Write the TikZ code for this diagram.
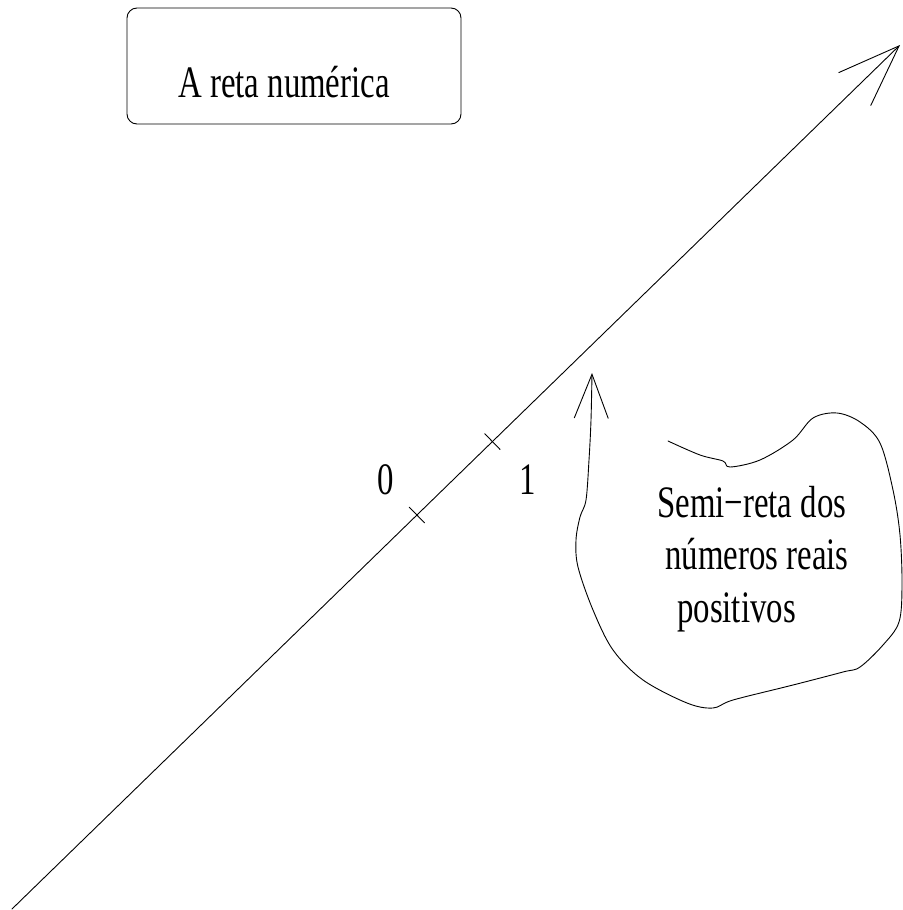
\documentclass[tikz,border=0pt]{standalone}
\usepackage{fontspec}
\setmainfont[FakeStretch=0.73]{Liberation Serif}
\usetikzlibrary{arrows.meta, calc}

\begin{document}
\begin{tikzpicture}[
        x=1pt, y=-1pt,
        font=\fontsize{45}{52}\selectfont,
        every node/.style={inner sep=0pt},
        thinline/.style={line width=0.9pt, line cap=round, line join=round},
        titlebox/.style={draw, thinline, rounded corners=10pt, minimum width=334pt, minimum height=116pt},
        axis/.style={thinline, -{Straight Barb[length=62pt, width=46pt]}},
        callout/.style={thinline, -{Straight Barb[length=44pt, width=34pt]}},
        tickmark/.style={thinline},
        lbl/.style={anchor=base west}
    ]
    \useasboundingbox (0,0) rectangle (902,910);

    % title
    \node (title) [titlebox] at (294,66) {};
    \node (titletext) [lbl] at (178,97) {A reta numérica};

    % the line
    \coordinate (start) at (12,909);
    \coordinate (tip) at (900,45);
    \draw [axis] (start) -- (tip);

    \coordinate (zero) at ($(start)!0.456!(tip)$);
    \coordinate (one) at ($(start)!0.541!(tip)$);
    \draw [tickmark] ($(zero)!11pt!90:(tip)$) -- ($(zero)!11pt!-90:(tip)$);
    \draw [tickmark] ($(one)!11pt!90:(tip)$) -- ($(one)!11pt!-90:(tip)$);
    \node (lblzero) [lbl] at (377,494) {0};
    \node (lblone) [lbl] at (519,494) {1};

    % cloud with arrow
    \coordinate (pointer) at (592,373);
    \draw [callout] plot [smooth, tension=0.55] coordinates {
        (668,441) (700,455) (723,461) (730,467) (760,460) (793,440) (813,418)
        (837,413) (860,422) (880,443) (893,490) (900,535) (902,585) (899,622)
        (883,645) (860,667) (843,672) (793,685) (733,700) (713,708) (687,703)
        (643,680) (613,650) (593,610) (578,567) (576,540) (580,517) (586,500)
        (589,460) (591,420) (pointer)};

    \node (semi) [lbl] at (657,517) {Semi−reta dos};
    \node (numeros) [lbl] at (665,569) {números reais};
    \node (positivos) [lbl] at (677,622) {positivos};
\end{tikzpicture}
\end{document}
